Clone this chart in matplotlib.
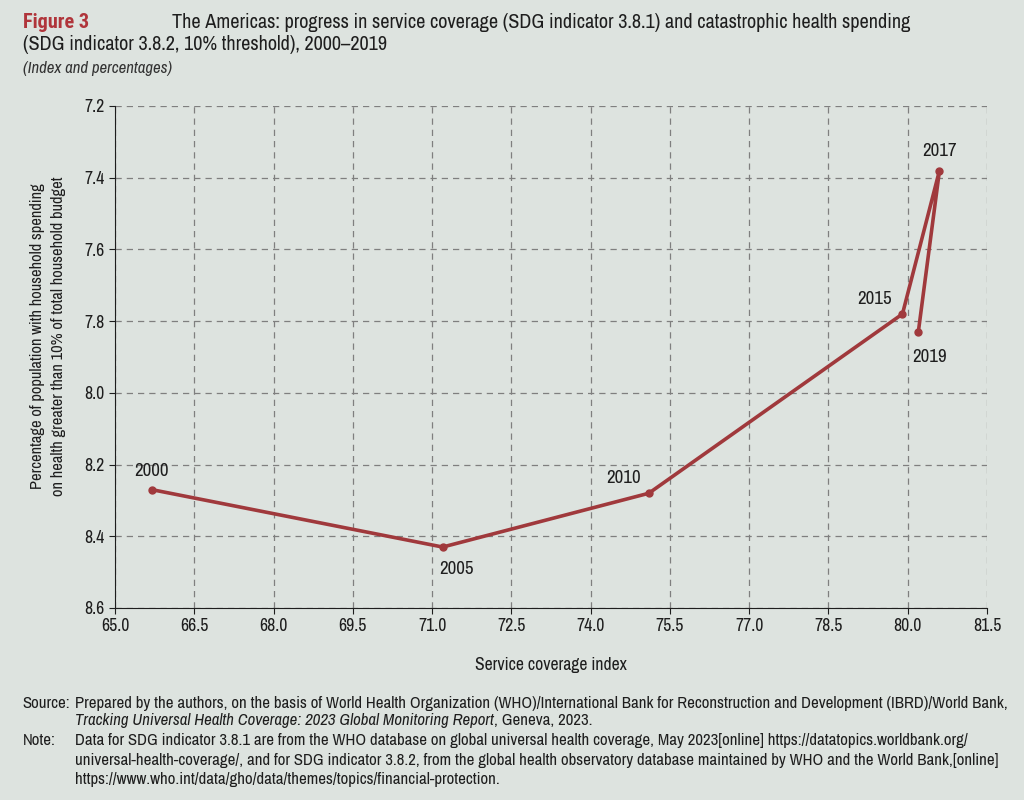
import matplotlib
matplotlib.use("Agg")
import matplotlib.pyplot as plt

plt.rcParams['font.family'] = ['Archivo Narrow', 'Roboto Condensed', 'DejaVu Sans']

years = ["2000", "2005", "2010", "2015", "2017", "2019"]
coverage = [65.7, 71.2, 75.1, 79.9, 80.6, 80.2]
catastrophic = [8.27, 8.43, 8.28, 7.78, 7.38, 7.83]
xticks = [65.0, 66.5, 68.0, 69.5, 71.0, 72.5, 74.0, 75.5, 77.0, 78.5, 80.0, 81.5]
yticks = [7.2, 7.4, 7.6, 7.8, 8.0, 8.2, 8.4, 8.6]

BG = "#dde3df"
RED = "#a0393c"
INK = "#1e1e1e"

fig = plt.figure(figsize=(10.24, 8.0), dpi=100, facecolor=BG)
fig.canvas.draw()
R = fig.canvas.get_renderer()


def fit(s, target, **kw):
    t = fig.text(0, 0, s, fontsize=10, **kw)
    w = t.get_window_extent(renderer=R).width
    t.remove()
    return 10.0 * target / w


ax = fig.add_axes([0.1123, 0.24, 0.8516, 0.6275], facecolor=BG)

tick_fs = fit("66.5", 28)
year_fs = fit("2000", 34)

ax.plot(coverage, catastrophic, color=RED, lw=2.6, marker='o', ms=5, zorder=3)
ax.set_xlim(65.0, 81.5)
ax.set_ylim(8.6, 7.2)
ax.set_xticks(xticks)
ax.set_xticklabels([f"{v:.1f}" for v in xticks])
ax.set_yticks(yticks)
ax.set_yticklabels([f"{v:.1f}" for v in yticks])
ax.tick_params(labelsize=tick_fs, length=4, color=INK, labelcolor=INK)
ax.grid(True, color="#7f7f7f", ls=(0, (5, 4)), lw=0.9)
for s in ["top", "right"]:
    ax.spines[s].set_visible(False)
for s in ["left", "bottom"]:
    ax.spines[s].set_color(INK)

offsets = {"2000": (0, 8, 'center', 'bottom'),
           "2005": (10, -10, 'center', 'top'),
           "2010": (-18, 5, 'center', 'bottom'),
           "2015": (-20, 5, 'center', 'bottom'),
           "2017": (0, 8, 'center', 'bottom'),
           "2019": (8, -12, 'center', 'top')}
for yr, xv, yv in zip(years, coverage, catastrophic):
    dx, dy, ha, va = offsets[yr]
    ax.annotate(yr, (xv, yv), xytext=(dx, dy), textcoords='offset points',
                ha=ha, va=va, fontsize=year_fs, color=INK)

xl = "Service coverage index"
ax.set_xlabel(xl, fontsize=fit(xl, 153), color=INK, labelpad=16)
yl1 = "Percentage of population with household spending"
yl2 = "on health greater than 10% of total household budget"
ax.set_ylabel(yl1 + "\n" + yl2, fontsize=fit(yl2, 320), color=INK, linespacing=1.5)
ax.yaxis.set_label_coords(-0.056, 0.542)

# Title block
t_main = "The Americas: progress in service coverage (SDG indicator 3.8.1) and catastrophic health spending"
fs_title = fit(t_main, 743)
fig.text(0.022, 0.9725, "Figure 3", color="#b0353b", fontsize=fs_title, fontweight='bold',
         family=['Roboto Condensed', 'DejaVu Sans'], va='center')
fig.text(0.168, 0.9725, t_main, fontsize=fs_title, color=INK, va='center')
fig.text(0.022, 0.944, "(SDG indicator 3.8.2, 10% threshold), 2000\u20132019", fontsize=fs_title, color=INK, va='center')
sub = "(Index and percentages)"
fig.text(0.022, 0.915, sub, fontsize=fit(sub, 150, style='italic'), style='italic', color="#333333", va='center')

# Footnotes
src1 = "Prepared by the authors, on the basis of World Health Organization (WHO)/International Bank for Reconstruction and Development (IBRD)/World Bank,"
fs = fit(src1, 930)
X0 = 0.0735
fig.text(0.022, 0.121, "Source:", fontsize=fs, color=INK, va='center')
fig.text(X0, 0.121, src1, fontsize=fs, color=INK, va='center')
t1 = fig.text(X0, 0.099, "Tracking Universal Health Coverage: 2023 Global Monitoring Report", style='italic',
              fontsize=fs, color=INK, va='center')
bb = t1.get_window_extent(renderer=R)
fig.text(bb.x1 / fig.bbox.width, 0.099, ", Geneva, 2023.", fontsize=fs, color=INK, va='center')
fig.text(0.022, 0.074, "Note:", fontsize=fs, color=INK, va='center')
fig.text(X0, 0.074, "Data for SDG indicator 3.8.1 are from the WHO database on global universal health coverage, May 2023[online] https://datatopics.worldbank.org/",
         fontsize=fs, color=INK, va='center')
fig.text(X0, 0.050, "universal-health-coverage/, and for SDG indicator 3.8.2, from the global health observatory database maintained by WHO and the World Bank,[online]",
         fontsize=fs, color=INK, va='center')
fig.text(X0, 0.026, "https://www.who.int/data/gho/data/themes/topics/financial-protection.",
         fontsize=fs, color=INK, va='center')

fig.savefig("out.png", dpi=100, facecolor=BG)
